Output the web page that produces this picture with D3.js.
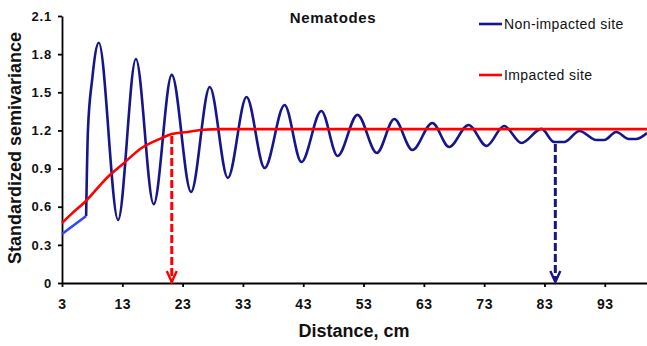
<!DOCTYPE html>
<html lang="en">
<head>
  <meta charset="UTF-8" />
  <title>Nematodes semivariance</title>
  <script src="https://cdn.jsdelivr.net/npm/d3@7"></script>
  <style>
    body { margin: 0; background: #fff; }
    text { font-family: "Liberation Sans", Arial, sans-serif; fill: #111; }
  </style>
</head>
<body>
  <svg id="chart" width="647" height="346"></svg>
  <script>
    // values (distance in cm, standardized semivariance)
    const nonImpactedX = [3, 7, 7.3, 8, 9.1, 12.3, 15.25, 18.2, 21.2, 24.4, 27.5, 30.5, 33.6, 36.6, 39.9,
      42.7, 46, 48.7, 52, 55.2, 58.1, 61.1, 64.4, 67.2, 70.4, 73.4, 76.3, 79.2, 82.5, 84.6, 86.3,
      88.8, 91.6, 92.9, 94.9, 97, 98.2, 100];
    const nonImpactedY = [0.385, 0.527, 1.2, 1.6, 1.89, 0.496, 1.762, 0.62, 1.637, 0.716, 1.542, 0.826, 1.463, 0.905, 1.40,
      0.952, 1.353, 0.999, 1.322, 1.023, 1.29, 1.046, 1.259, 1.07, 1.243, 1.078, 1.235, 1.101, 1.212, 1.109, 1.109,
      1.196, 1.125, 1.125, 1.188, 1.133, 1.133, 1.18];
    const impactedX = [3, 4.5, 6.8, 10.6, 12.9, 16.2, 19.6, 21.2, 23.9, 26.3, 29.2, 100];
    const impactedY = [0.472, 0.54, 0.637, 0.834, 0.928, 1.062, 1.141, 1.172, 1.188, 1.205, 1.21, 1.21];

    const seriesNames = ["Non-impacted site", "Impacted site"];
    const seriesColors = ["#16168a", "#ff0000"];
    const startColor = "#3344ff"; // first short stretch of the non-impacted curve

    // range arrows: [distance, value at top]
    const arrows = [[21.2, 1.172], [84.8, 1.109]];

    const xTicks = [3, 13, 23, 33, 43, 53, 63, 73, 83, 93];
    const yTicks = [0, 0.3, 0.6, 0.9, 1.2, 1.5, 1.8, 2.1];
    const yTickLabels = ["0", "0.3", "0.6", "0.9", "1.2", "1.5", "1.8", "2.1"];

    const svg = d3.select("#chart");

    const x = d3.scaleLinear().domain([3, 100]).range([62, 647]);
    const y = d3.scaleLinear().domain([0, 2.1]).range([283, 16]);

    const line = d3.line()
      .x(d => x(d[0]))
      .y(d => y(d[1]))
      .curve(d3.curveMonotoneX);

    const blueData = nonImpactedX.map((v, i) => [v, nonImpactedY[i]]);
    const redData = impactedX.map((v, i) => [v, impactedY[i]]);

    // axes
    const xAxis = svg.append("g")
      .attr("transform", `translate(0,${y(0)})`)
      .call(d3.axisBottom(x).tickValues(xTicks).tickSize(4).tickSizeOuter(0).tickPadding(12));
    xAxis.selectAll("text")
      .style("font-size", "14px").style("font-weight", "bold").style("letter-spacing", "0.6px");

    const yAxis = svg.append("g")
      .attr("transform", `translate(${x(3)},0)`)
      .call(d3.axisLeft(y).tickValues(yTicks).tickSize(4).tickSizeOuter(0).tickPadding(6)
        .tickFormat((d, i) => yTickLabels[i]));
    yAxis.selectAll("text")
      .style("font-size", "13px").style("font-weight", "bold").style("letter-spacing", "0.8px");

    svg.selectAll(".domain, .tick line").attr("stroke", "#000").attr("stroke-width", 1.8);
    svg.selectAll(".tick text").attr("fill", "#111");

    // curves
    svg.append("path")
      .datum(blueData.slice(1))
      .attr("fill", "none")
      .attr("stroke", seriesColors[0])
      .attr("stroke-width", 2.6)
      .attr("stroke-linejoin", "round")
      .attr("d", line);

    svg.append("path")
      .datum(blueData.slice(0, 2))
      .attr("fill", "none")
      .attr("stroke", startColor)
      .attr("stroke-width", 2.6)
      .attr("d", d3.line().x(d => x(d[0])).y(d => y(d[1])));

    svg.append("path")
      .datum(redData)
      .attr("fill", "none")
      .attr("stroke", seriesColors[1])
      .attr("stroke-width", 2.6)
      .attr("d", line);

    // dashed arrows down to the axis
    arrows.forEach((a, i) => {
      const color = i === 0 ? seriesColors[1] : seriesColors[0];
      const ax = x(a[0]);
      svg.append("line")
        .attr("x1", ax).attr("x2", ax)
        .attr("y1", y(a[1]) + 2).attr("y2", y(0) - 3)
        .attr("stroke", color)
        .attr("stroke-width", 3)
        .attr("stroke-dasharray", "8,3");
      svg.append("path")
        .attr("d", `M${ax - 5},${y(0) - 12}L${ax},${y(0) - 1}L${ax + 5},${y(0) - 12}`)
        .attr("fill", "none")
        .attr("stroke", color)
        .attr("stroke-width", 2.4);
    });

    // title
    svg.append("text")
      .attr("x", 333).attr("y", 23)
      .attr("text-anchor", "middle")
      .style("font-size", "15px").style("font-weight", "bold").style("letter-spacing", "0.6px")
      .text("Nematodes");

    // legend
    const legend = svg.append("g");
    seriesNames.forEach((name, i) => {
      const ly = 24 + i * 51;
      legend.append("line")
        .attr("x1", 479).attr("x2", 502)
        .attr("y1", ly).attr("y2", ly)
        .attr("stroke", seriesColors[i])
        .attr("stroke-width", 2.6);
      legend.append("text")
        .attr("x", 504).attr("y", ly + 5)
        .style("font-size", "14px").style("letter-spacing", "0.4px")
        .text(name);
    });

    // axis titles
    svg.append("text")
      .attr("x", 354).attr("y", 337)
      .attr("text-anchor", "middle")
      .style("font-size", "18px").style("font-weight", "bold")
      .text("Distance, cm");

    svg.append("text")
      .attr("transform", `translate(21,148) rotate(-90)`)
      .attr("text-anchor", "middle")
      .style("font-size", "18px").style("font-weight", "bold")
      .text("Standardized semivariance");
  </script>
</body>
</html>
